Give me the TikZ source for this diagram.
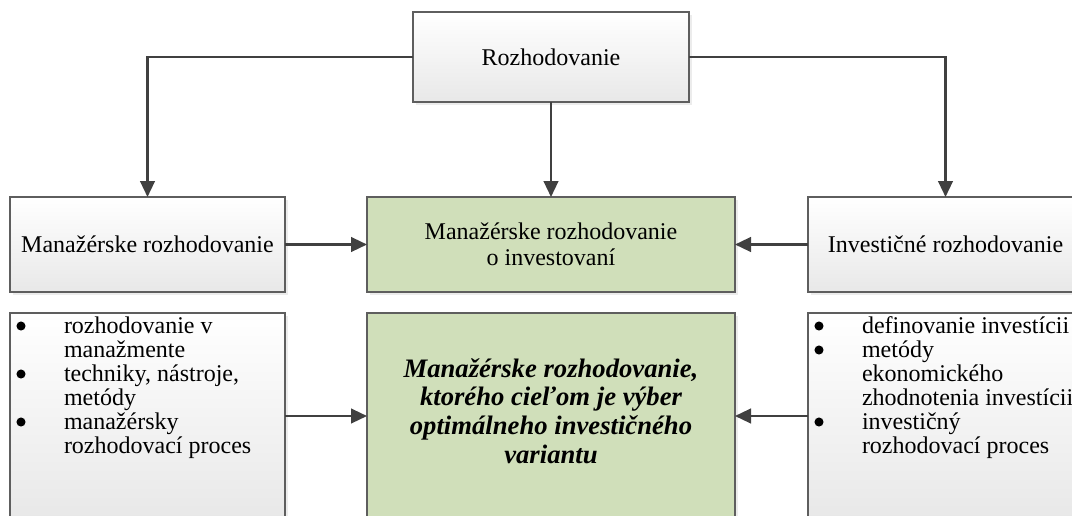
\documentclass[tikz,border=0pt]{standalone}
\usepackage{fontspec}
\setmainfont{Liberation Serif}
\usetikzlibrary{arrows.meta,shadows}

\definecolor{boxgreen}{HTML}{D0DFBA}
\definecolor{boxline}{HTML}{5E5E5E}
\definecolor{connline}{HTML}{404040}

\tikzset{
  basebox/.style={draw=boxline, line width=0.8pt, inner sep=0pt, outer sep=0pt,
    align=center, font=\fontsize{18}{19.8}\selectfont,
    drop shadow={shadow xshift=2.4pt, shadow yshift=-2.4pt, fill=black!15}},
  graybox/.style={basebox, top color=white, bottom color=black!9},
  greenbox/.style={basebox, fill=boxgreen},
  midrow/.style={minimum height=71.25pt},
  lowrow/.style={minimum height=154.5pt},
  conn/.style={draw=connline, line width=1.7pt, -{Triangle[length=12pt,width=11pt]}},
  listtext/.style={anchor=north west, inner sep=0pt, outer sep=0pt, align=left,
    font=\fontsize{18}{18}\selectfont},
  bulletdot/.style={fill=black}
}

\begin{document}
\begin{tikzpicture}[x=0.75pt, y=-0.75pt]
  \useasboundingbox (0,0) rectangle (1072,515);
  \clip (0,0) rectangle (1072,515);

  % top box
  \node[graybox, minimum width=207pt, minimum height=67.5pt] (top) at (551,57) {Rozhodovanie};

  % middle row
  \node[graybox, midrow, minimum width=206.25pt] (lmid) at (147.5,244.5) {Manažérske rozhodovanie};
  \node[greenbox, midrow, minimum width=276pt] (cmid) at (551,244.5) {Manažérske rozhodovanie\\o investovaní};
  \node[graybox, midrow, minimum width=206.25pt] (rmid) at (945.5,244.5) {Investičné rozhodovanie};

  % lower row
  \node[graybox, lowrow, minimum width=206.25pt] (lbot) at (147.5,416) {};
  \node[greenbox, lowrow, minimum width=276pt] (cbot) at (551,416) {};
  \node[graybox, lowrow, minimum width=206.25pt] (rbot) at (945.5,416) {};

  \node[align=center, inner sep=0pt, font=\fontsize{20}{21.4}\selectfont\bfseries\itshape] (ctext) at (551,411)
    {Manažérske rozhodovanie,\\ktorého cieľom je výber\\optimálneho investičného\\variantu};

  % bulleted lists
  \node[listtext] (llist) at (64,317)
    {rozhodovanie v\\manažmente\\techniky, nástroje,\\metódy\\manažérsky\\rozhodovací proces};
  \node[listtext] (rlist) at (862,317)
    {definovanie investícii\\metódy\\ekonomického\\zhodnotenia investícii\\investičný\\rozhodovací proces};
  \foreach \y in {326,374,422} \fill[bulletdot] (21,\y) circle[radius=3.4pt];
  \foreach \y in {326,350,422} \fill[bulletdot] (819,\y) circle[radius=3.4pt];

  % connectors
  \draw[conn] (top.west) -| (lmid.north);
  \draw[conn] (top.south) -- (cmid.north);
  \draw[conn] (top.east) -| (rmid.north);
  \draw[conn] (lmid.east) -- (cmid.west);
  \draw[conn] (rmid.west) -- (cmid.east);
  \draw[conn] (lbot.east) -- (cbot.west);
  \draw[conn] (rbot.west) -- (cbot.east);
\end{tikzpicture}
\end{document}
